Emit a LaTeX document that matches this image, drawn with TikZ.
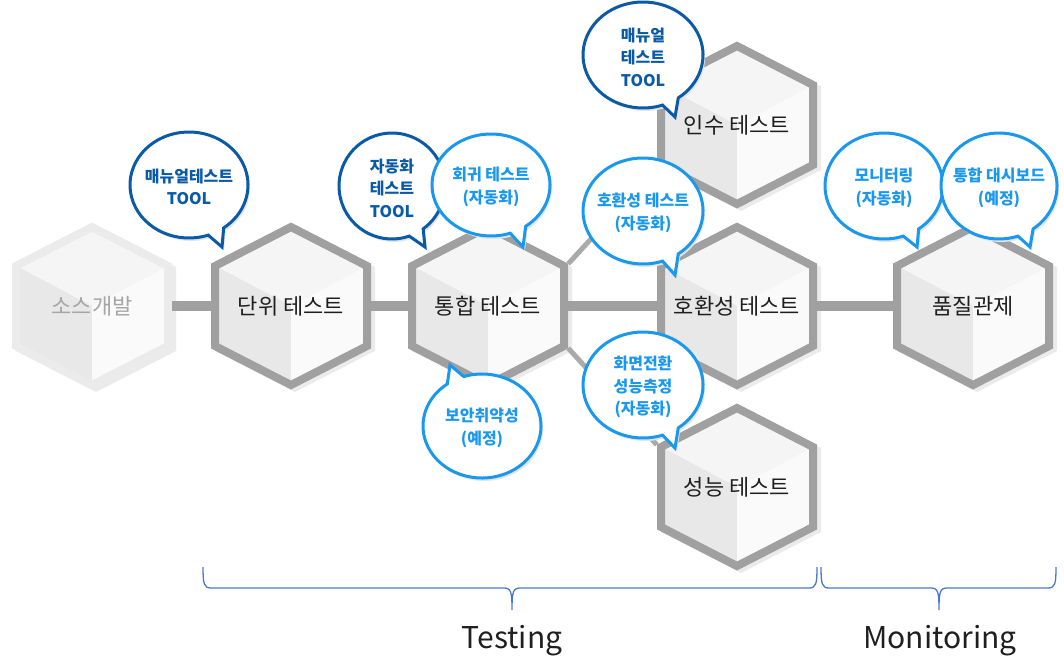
\documentclass[tikz,border=0pt]{standalone}
\usepackage{fontspec}
\setmainfont{Noto Sans CJK KR}
\usetikzlibrary{calc,shadows}
\definecolor{rimgray}{HTML}{A0A0A0}
\definecolor{rimfaint}{HTML}{EBEBEB}
\definecolor{facetop}{HTML}{F5F5F5}
\definecolor{faceleft}{HTML}{E8E8E8}
\definecolor{faceright}{HTML}{FAFAFA}
\definecolor{tooldark}{HTML}{0A5AA8}
\definecolor{autolight}{HTML}{1A98EE}
\definecolor{braceblue}{HTML}{4A78D0}

\begin{document}
\begin{tikzpicture}[x=1pt, y=-1pt,
                    line join=miter]
    \tikzstyle{hexlabel}=[minimum width=160pt, minimum height=84pt, inner sep=0pt, font=\fontsize{22}{26}\selectfont]
    \tikzstyle{rim}=[line width=8pt]
    \tikzstyle{bar}=[draw=rimgray, line width=10pt]
    \tikzstyle{link}=[draw=rimgray!90, line width=5pt]
    \tikzstyle{bubble}=[fill=white, line width=3pt, drop shadow={shadow xshift=2pt, shadow yshift=-3pt, fill=black!10, opacity=1}]
    \tikzstyle{bubbletext}=[align=center, font=\fontsize{16}{22.5}\selectfont\bfseries, yshift=-2pt]
    \tikzstyle{brace}=[draw=braceblue, line width=1.3pt]
    \tikzstyle{group}=[anchor=base, font=\fontsize{30}{34}\selectfont, text=black!88]

    \useasboundingbox (0,0) rectangle (1064,669);

    \foreach \n/\p/\t/\rc/\tc in {src/{92,306}/소스개발/rimfaint/black!35,
                                  unit/{291,306}/단위 테스트/rimgray/black!88,
                                  integ/{488,306}/통합 테스트/rimgray/black!88,
                                  accept/{737,125}/인수 테스트/rimgray/black!88,
                                  compat/{737,306}/호환성 테스트/rimgray/black!88,
                                  perf/{737,487}/성능 테스트/rimgray/black!88,
                                  quality/{973,306}/품질관제/rimgray/black!88}
    {
        \begin{scope}[shift={(\p)}]
            \fill[black!8, shift={(4,3)}] (0,-83) -- (80,-42) -- (80,42) -- (0,83) -- (-80,42) -- (-80,-42) -- cycle;
            \fill[facetop] (0,-79) -- (76,-40) -- (0,0) -- (-76,-40) -- cycle;
            \fill[faceleft] (-76,-40) -- (0,0) -- (0,79) -- (-76,40) -- cycle;
            \fill[faceright] (0,0) -- (76,-40) -- (76,40) -- (0,79) -- cycle;
            \draw[rim, draw=\rc] (0,-79) -- (76,-40) -- (76,40) -- (0,79) -- (-76,40) -- (-76,-40) -- cycle;
            \node[hexlabel, text=\tc] (\n) at (0,0) {\t};
        \end{scope}
    }

    \draw[bar] (src.east) -- (unit.west);
    \draw[bar] (unit.east) -- (integ.west);
    \draw[bar] (integ.east) -- (compat.west);
    \draw[bar] (compat.east) -- (quality.west);
    \draw[link] (integ.north east) -- (accept.south west);
    \draw[link] (integ.south east) -- (perf.north west);

    \foreach \n/\c/\rx/\ry/\a/\b/\tip/\col/\t in {
        man1/{189,185}/59/53/54/71/{33,62}/tooldark/매뉴얼테스트\\TOOL,
        autotool/{392,186}/53/53/54/71/{33,61}/tooldark/자동화\\테스트\\TOOL,
        regress/{491,185}/59/51/54/71/{32,62}/autolight/회귀 테스트\\(자동화),
        man2/{643,55}/60/53/54/71/{32,62}/tooldark/매뉴얼\\테스트\\TOOL,
        compatauto/{643,211}/60/53/54/71/{32,64}/autolight/호환성 테스트\\(자동화),
        secure/{482,426}/59/52/234/252/{-32,-61}/autolight/보안취약성\\(예정),
        perfauto/{643,385}/60/53/54/71/{32,63}/autolight/화면전환\\성능측정\\(자동화),
        monitor/{884,186}/59/53/54/71/{33,61}/autolight/모니터링\\(자동화),
        dashboard/{999,186}/58/53/54/71/{31,61}/autolight/통합 대시보드\\(예정)}
    {
        \path[bubble, draw=\col] (\c) ++({\rx*cos(\b)},{\ry*sin(\b)}) arc[start angle=\b, end angle=\a+360, x radius=\rx, y radius=\ry] -- ($(\c)+(\tip)$) -- cycle;
        \node[bubbletext, text=\col] (\n) at (\c) {\t};
    }

    \foreach \l/\m/\r in {203/512/817, 821/939/1056}
        \draw[brace] (\l,567) .. controls (\l,584) and (\l+1,588) .. (\l+8,588) -- (\m-8,588)
            .. controls (\m-1,588) and (\m,592) .. (\m,610) .. controls (\m,592) and (\m+1,588) .. (\m+8,588)
            -- (\r-8,588) .. controls (\r-1,588) and (\r,584) .. (\r,567);

    \node[group] (testing) at (512,648) {Testing};
    \node[group] (monitoring) at (940,648) {Monitoring};
\end{tikzpicture}
\end{document}
